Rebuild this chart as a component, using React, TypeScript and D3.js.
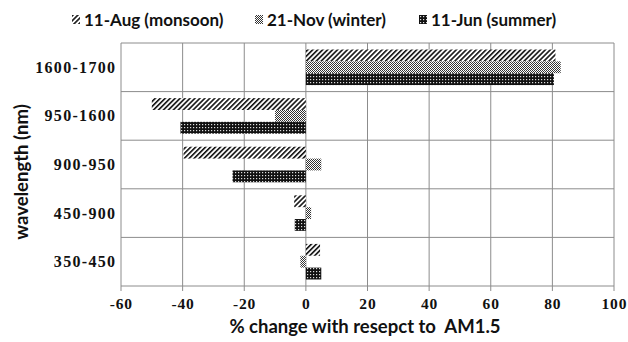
import React from "react";
import * as d3 from "d3";

const categories = ["1600-1700", "950-1600", "900-950", "450-900", "350-450"];
const seriesNames = ["11-Aug (monsoon)", "21-Nov (winter)", "11-Jun (summer)"];
const monsoon = [81, -50, -39.7, -3.8, 4.6];
const winter = [82.7, -10, 5, 1.7, -1.8];
const summer = [80.5, -40.7, -23.8, -3.6, 5];
const xTicks = [-60, -40, -20, 0, 20, 40, 60, 80, 100];

const patternIds = ["pat-hatch", "pat-fine", "pat-dots"];

const W = 628;
const H = 342;
const margin = { top: 43, right: 14, bottom: 56, left: 121 };

const App = () => {
  const x = d3.scaleLinear().domain([-60, 100]).range([margin.left, W - margin.right]);
  const y = d3.scaleBand().domain(categories).range([margin.top, H - margin.bottom]);
  const inner = d3.scaleBand().domain(seriesNames).range([0, y.bandwidth()]).paddingOuter(0.55);
  const values = [monsoon, winter, summer];
  const grid = "#8c8c8c";
  const serif = "'Liberation Serif', serif";
  const sans = "Lato, 'Open Sans', sans-serif";

  // legend: icon left edge
  const legendX = [72, 255, 419];

  return (
    <svg width={W} height={H} style={{ display: "block", position: "absolute", left: 0, top: 0 }}>
      <defs>
        <pattern id="pat-hatch" width="3.5" height="3.5" patternUnits="userSpaceOnUse" patternTransform="rotate(45)">
          <rect width="3.5" height="3.5" fill="#fff" />
          <rect width="1.6" height="3.5" fill="#111" />
        </pattern>
        <pattern id="pat-fine" width="2" height="2" patternUnits="userSpaceOnUse">
          <rect width="2" height="2" fill="#fff" />
          <rect width="1" height="1" fill="#333" />
          <rect x="1" y="1" width="1" height="1" fill="#333" />
        </pattern>
        <pattern id="pat-dots" width="3" height="3" patternUnits="userSpaceOnUse">
          <rect width="3" height="3" fill="#111" />
          <rect x="1" y="1" width="1.2" height="1.2" fill="#ddd" />
        </pattern>
      </defs>
      <rect width={W} height={H} fill="#fff" />

      {/* grid */}
      {xTicks.map((t) => (
        <line key={"vx" + t} x1={x(t)} x2={x(t)} y1={margin.top} y2={H - margin.bottom} stroke={grid} strokeWidth={1} />
      ))}
      {categories.map((c) => (
        <line key={"hy" + c} x1={margin.left} x2={W - margin.right} y1={y(c)!} y2={y(c)!} stroke={grid} strokeWidth={1} />
      ))}
      <line x1={margin.left} x2={W - margin.right} y1={H - margin.bottom} y2={H - margin.bottom} stroke={grid} />
      {xTicks.map((t) => (
        <line key={"tk" + t} x1={x(t)} x2={x(t)} y1={H - margin.bottom} y2={H - margin.bottom + 5} stroke={grid} />
      ))}

      {/* bars */}
      {values.map((vals, si) =>
        categories.map((c, ci) => {
          const v = vals[ci];
          const x0 = x(Math.min(0, v));
          const x1 = x(Math.max(0, v));
          return (
            <rect
              key={si + "-" + c}
              x={x0}
              y={y(c)! + inner(seriesNames[si])!}
              width={x1 - x0}
              height={inner.bandwidth()}
              fill={`url(#${patternIds[si]})`}
            />
          );
        })
      )}

      {/* x tick labels */}
      {xTicks.map((t) => (
        <text key={"xl" + t} x={x(t) + 0.4} y={309} textAnchor="middle" fontFamily={serif} fontWeight="bold" fontSize={15.5} letterSpacing={0.8} fill="#111">
          {t}
        </text>
      ))}
      {/* y tick labels */}
      {categories.map((c) => (
        <text key={"yl" + c} x={116.3} y={y(c)! + y.bandwidth() / 2 + 5.5} textAnchor="end" fontFamily={serif} fontWeight="bold" fontSize={16} letterSpacing={1.3} fill="#111">
          {c}
        </text>
      ))}

      {/* axis titles */}
      <text x={365} y={333} textAnchor="middle" fontFamily={sans} fontWeight="bold" fontSize={18.5} fill="#111" style={{ whiteSpace: "pre" }}>
        % change with resepct to  AM1.5
      </text>
      <text transform={`translate(28,172) rotate(-90)`} textAnchor="middle" fontFamily={sans} fontWeight="bold" fontSize={18.5} fill="#111">
        wavelength (nm)
      </text>

      {/* legend */}
      {seriesNames.map((s, i) => (
        <g key={"lg" + s} transform={`translate(${legendX[i]},0)`}>
          <rect x={0} y={15} width={8} height={9} fill={`url(#${patternIds[i]})`} />
          <text x={12} y={26} fontFamily={sans} fontWeight="bold" fontSize={17} fill="#111">
            {s}
          </text>
        </g>
      ))}
    </svg>
  );
};

export default App;
